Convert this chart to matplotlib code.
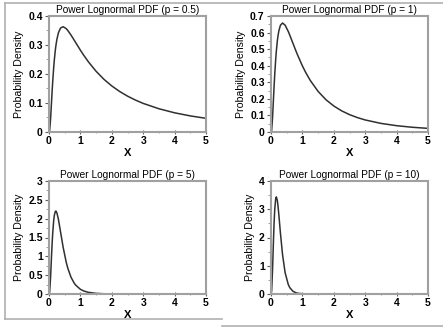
import numpy as np
import matplotlib
matplotlib.use("Agg")
import matplotlib.pyplot as plt
from matplotlib.lines import Line2D

plt.rcParams['font.family'] = ['Liberation Sans', 'DejaVu Sans']

# sampled x positions shared by all panels
x_vals = [0.0, 0.02, 0.05, 0.08, 0.1, 0.12, 0.15, 0.17, 0.2, 0.22, 0.25, 0.3,
          0.368, 0.45, 0.55, 0.6, 0.7, 0.8, 0.85, 1.0, 1.1, 1.25, 1.5, 1.75,
          2.0, 2.25, 2.5, 2.75, 3.0, 3.5, 4.0, 4.5, 5.0]

# density
pdf_p05 = [0.0, 0.0048, 0.0449, 0.1029, 0.1415, 0.1771, 0.2232, 0.2489,
           0.2808, 0.2981, 0.3186, 0.3422, 0.3585, 0.3631, 0.3563, 0.3499,
           0.3344, 0.3171, 0.3083, 0.2821, 0.2656, 0.2426, 0.2093, 0.1816,
           0.1588, 0.1397, 0.1237, 0.1102, 0.0986, 0.0802, 0.0662, 0.0555,
           0.0472]
pdf_p1 = [0.0, 0.0095, 0.0898, 0.2053, 0.2815, 0.3511, 0.4399, 0.4881, 0.5463,
          0.5765, 0.6103, 0.6441, 0.6577, 0.6445, 0.6067, 0.5835, 0.5348,
          0.4864, 0.4632, 0.3989, 0.3610, 0.3113, 0.2450, 0.1949, 0.1569,
          0.1276, 0.1049, 0.0870, 0.0727, 0.0520, 0.0381, 0.0286, 0.0219]
pdf_p5 = [0.0, 0.0475, 0.4465, 1.003, 1.3485, 1.6393, 1.956, 2.0885, 2.1897,
          2.2028, 2.1593, 1.9819, 1.6477, 1.2406, 0.8381, 0.6819, 0.4467,
          0.2913, 0.2352, 0.1247, 0.0822, 0.0447, 0.0169, 0.0067, 0.0028,
          0.0012, 0.0006, 0.0003, 0.0001, 0.0, 0.0, 0.0, 0.0]
pdf_p10 = [0.0, 0.095, 0.887, 1.9488, 2.5564, 3.0094, 3.3786, 3.4379, 3.3219,
           3.148, 2.8027, 2.1607, 1.3892, 0.7525, 0.3358, 0.2217, 0.0954,
           0.0411, 0.0270, 0.0078, 0.0035, 0.0011, 0.0002, 0.0, 0.0, 0.0, 0.0,
           0.0, 0.0, 0.0, 0.0, 0.0, 0.0]

p_labels = ['0.5', '1', '5', '10']
y_tops = [0.4, 0.7, 3, 4]
y_steps = [0.1, 0.1, 0.5, 1]

W, H = 443, 329
fig = plt.figure(figsize=(W / 100, H / 100), dpi=100)

# axes boxes in pixels: left, top, right, bottom
boxes = [(49, 16, 206, 132), (271, 16, 428, 132),
         (49, 181, 206, 294), (271, 181, 428, 294)]

spine_col = '#a0a0a0'
curves = [pdf_p05, pdf_p1, pdf_p5, pdf_p10]

for i, (l, t, r, b) in enumerate(boxes):
    ax = fig.add_axes([l / W, 1 - b / H, (r - l) / W, (b - t) / H])
    ax.plot(x_vals, curves[i], color='#303030', lw=1.1)
    ax.set_xlim(0, 5)
    ax.set_ylim(0, y_tops[i])
    ax.set_xticks(np.arange(0, 6, 1))
    ax.set_xticks(np.arange(0.5, 5, 1), minor=True)
    step = y_steps[i]
    ax.set_yticks(np.arange(0, y_tops[i] + step / 2, step))
    ax.set_yticks(np.arange(step / 2, y_tops[i], step), minor=True)
    if step < 0.5:
        ax.set_yticklabels(['0'] + ['%.1f' % v for v in
                                    np.arange(step, y_tops[i] + step / 2, step)])
    elif step == 0.5:
        ax.set_yticklabels(['0', '0.5', '1', '1.5', '2', '2.5', '3'])
    for s in ax.spines.values():
        s.set_color(spine_col)
        s.set_linewidth(1.5)
    ax.tick_params(axis='both', which='major', labelsize=7.5, length=3,
                   width=0.8, color='#606060', pad=1.5)
    ax.tick_params(axis='both', which='minor', length=2, width=0.6,
                   color='#909090')
    ax.tick_params(axis='x', which='both', direction='inout')
    for lab in ax.get_xticklabels() + ax.get_yticklabels():
        lab.set_fontweight('bold')
    ax.set_title('Power Lognormal PDF (p = %s)' % p_labels[i], fontsize=7.3,
                 pad=2.5)
    ax.set_xlabel('X', fontsize=8, fontweight='bold', labelpad=1)
    ax.set_ylabel('Probability Density', fontsize=7.6, labelpad=3)

# outer frame
frame = dict(color='#b0b0b0', lw=1.2, transform=fig.transFigure)
fig.add_artist(Line2D([5 / W, 5 / W], [1 - 3 / H, 1 - 319 / H], **frame))
fig.add_artist(Line2D([5 / W, 1], [1 - 3 / H, 1 - 3 / H], **frame))
fig.add_artist(Line2D([5 / W, 222 / W], [1 - 319 / H, 1 - 319 / H], **frame))
fig.add_artist(Line2D([222 / W, 1], [1 - 326 / H, 1 - 326 / H], **frame))

fig.savefig('out.png', dpi=100)
